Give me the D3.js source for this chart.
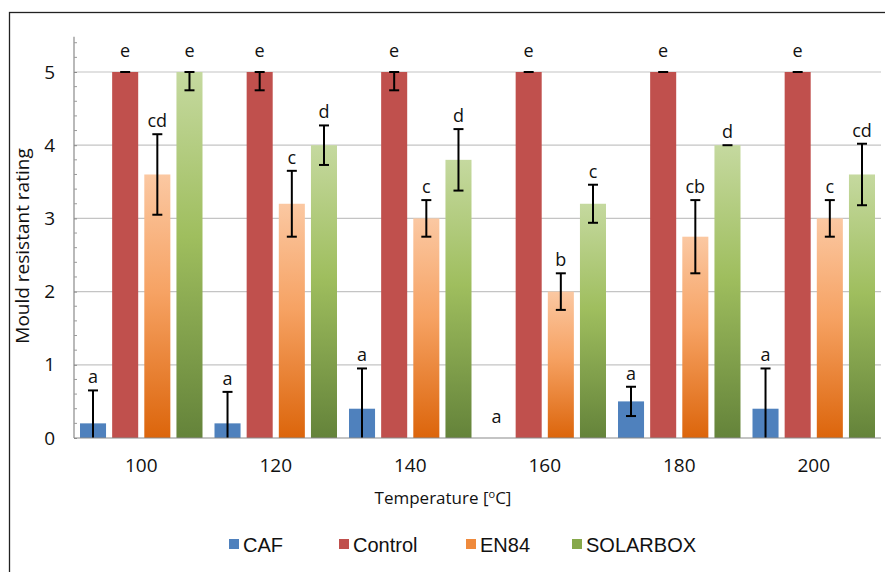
<!DOCTYPE html>
<html>
<head>
<meta charset="utf-8">
<script src="https://cdn.jsdelivr.net/npm/d3@7"></script>
<style>
  html, body { margin: 0; padding: 0; background: #fff; }
  svg { display: block; }
</style>
</head>
<body>
<svg id="chart" width="885" height="572"></svg>
<script>
// Mould resistance rating by treatment temperature
const temperatures = ["100", "120", "140", "160", "180", "200"];
const seriesNames = ["CAF", "Control", "EN84", "SOLARBOX"];

const cafValues      = [0.2, 0.2, 0.4, 0.0, 0.5, 0.4];
const controlValues  = [5, 5, 5, 5, 5, 5];
const en84Values     = [3.6, 3.2, 3.0, 2.0, 2.75, 3.0];
const solarboxValues = [5, 4.0, 3.8, 3.2, 4.0, 3.6];

const cafErrors      = [0.45, 0.43, 0.55, 0, 0.2, 0.55];
const controlErrors  = [0, 0.25, 0.25, 0, 0, 0];
const en84Errors     = [0.55, 0.45, 0.25, 0.25, 0.5, 0.25];
const solarboxErrors = [0.25, 0.27, 0.42, 0.26, 0, 0.42];

const cafLetters      = ["a", "a", "a", "a", "a", "a"];
const controlLetters  = ["e", "e", "e", "e", "e", "e"];
const en84Letters     = ["cd", "c", "c", "b", "cb", "c"];
const solarboxLetters = ["e", "d", "d", "c", "d", "cd"];

const yTicks = [0, 1, 2, 3, 4, 5];

const seriesValues  = [cafValues, controlValues, en84Values, solarboxValues];
const seriesErrors  = [cafErrors, controlErrors, en84Errors, solarboxErrors];
const seriesLetters = [cafLetters, controlLetters, en84Letters, solarboxLetters];

const rows = [];
temperatures.forEach((t, i) => {
  seriesNames.forEach((s, j) => {
    rows.push({
      temp: t,
      series: s,
      value: seriesValues[j][i],
      err: seriesErrors[j][i],
      letter: seriesLetters[j][i]
    });
  });
});

const svg = d3.select("#chart");
const defs = svg.append("defs");

function addGradient(id, stops) {
  const g = defs.append("linearGradient")
    .attr("id", id).attr("x1", 0).attr("y1", 0).attr("x2", 0).attr("y2", 1);
  stops.forEach(([o, c]) => g.append("stop").attr("offset", o).attr("stop-color", c));
}
addGradient("gradEN84", [["0%", "#fbc8a2"], ["45%", "#f6a263"], ["100%", "#dc650b"]]);
addGradient("gradSOLAR", [["0%", "#c5d99f"], ["45%", "#9fbe5e"], ["100%", "#64833a"]]);

const fills = {
  CAF: "#4f81bd",
  Control: "#c0504d",
  EN84: "url(#gradEN84)",
  SOLARBOX: "url(#gradSOLAR)"
};

const labelFont = "'Open Sans', 'DejaVu Sans', sans-serif";

// outer frame
svg.append("rect")
  .attr("x", 9.5).attr("y", 12.5)
  .attr("width", 900).attr("height", 600)
  .attr("fill", "none").attr("stroke", "#222").attr("stroke-width", 1.3);

const x0 = d3.scaleBand().domain(temperatures).range([74, 881]);
const x1 = d3.scaleBand().domain(seriesNames)
  .range([6, x0.bandwidth() - 6]).paddingInner(0.19).paddingOuter(0);
const y = d3.scaleLinear().domain([0, 5]).range([438, 72]);

// gridlines
svg.append("g")
  .selectAll("line")
  .data(yTicks.filter(d => d > 0))
  .join("line")
  .attr("x1", 74).attr("x2", 881)
  .attr("y1", d => y(d)).attr("y2", d => y(d))
  .attr("stroke", "#c4c4c4").attr("stroke-width", 1.2);

// y axis: major ticks with labels, minor ticks every 0.2
const yAxisTop = 5.48;
const axisG = svg.append("g").attr("transform", "translate(74,0)");
const yAxis = d3.axisLeft(y).tickValues(yTicks).tickSize(6).tickPadding(13).tickFormat(d3.format("d"));
axisG.call(yAxis);
axisG.select(".domain").remove();
axisG.selectAll(".tick line").attr("stroke", "#8a8a8a").attr("x2", 3);
axisG.selectAll(".tick text")
  .attr("font-family", labelFont).attr("font-size", 19).attr("fill", "#111");
axisG.append("line")
  .attr("x1", 0).attr("x2", 0).attr("y1", y(0)).attr("y2", y(yAxisTop))
  .attr("stroke", "#8a8a8a").attr("stroke-width", 1.2);
const minorTicks = d3.range(0, 55, 2).map(v => v / 10).filter(v => v % 1 !== 0);
axisG.selectAll(".minor")
  .data(minorTicks)
  .join("line")
  .attr("class", "minor")
  .attr("x1", 0).attr("x2", 3)
  .attr("y1", d => y(d)).attr("y2", d => y(d))
  .attr("stroke", "#9a9a9a").attr("stroke-width", 1);

// bars
const groups = svg.append("g")
  .selectAll("g")
  .data(temperatures)
  .join("g")
  .attr("transform", d => `translate(${x0(d)},0)`);

groups.selectAll("rect")
  .data(t => rows.filter(r => r.temp === t && r.value > 0))
  .join("rect")
  .attr("x", d => x1(d.series))
  .attr("width", x1.bandwidth())
  .attr("y", d => y(d.value))
  .attr("height", d => y(0) - y(d.value))
  .attr("fill", d => fills[d.series]);

// x axis baseline
svg.append("line")
  .attr("x1", 74).attr("x2", 881).attr("y1", y(0)).attr("y2", y(0))
  .attr("stroke", "#8a8a8a").attr("stroke-width", 1.2);

// error bars, limited to the 0–5 rating scale
const cap = 5;
const errG = groups.selectAll("g.err")
  .data(t => rows.filter(r => r.temp === t && (r.err > 0 || r.value > 0)))
  .join("g")
  .attr("class", "err")
  .attr("transform", d => `translate(${x1(d.series) + x1.bandwidth() / 2},0)`);

errG.append("line")
  .attr("y1", d => y(Math.max(0, d.value - d.err)))
  .attr("y2", d => y(Math.min(5, d.value + d.err)))
  .attr("stroke", "#000").attr("stroke-width", 2);
errG.filter(d => d.value + d.err > 0).append("line")
  .attr("x1", -cap).attr("x2", cap)
  .attr("y1", d => y(Math.min(5, d.value + d.err)))
  .attr("y2", d => y(Math.min(5, d.value + d.err)))
  .attr("stroke", "#000").attr("stroke-width", 2);
errG.filter(d => d.value - d.err > 0 && d.err > 0).append("line")
  .attr("x1", -cap).attr("x2", cap)
  .attr("y1", d => y(d.value - d.err))
  .attr("y2", d => y(d.value - d.err))
  .attr("stroke", "#000").attr("stroke-width", 2);

// significance letters
groups.selectAll("text.letter")
  .data(t => rows.filter(r => r.temp === t))
  .join("text")
  .attr("class", "letter")
  .attr("x", d => x1(d.series) + x1.bandwidth() / 2)
  .attr("y", d => {
    const top = Math.min(5, d.value + d.err);
    return y(top) - (top >= 5 || top === 0 ? 15 : 7);
  })
  .attr("text-anchor", "middle")
  .attr("font-family", labelFont)
  .attr("font-size", 18)
  .attr("fill", "#111")
  .text(d => d.letter);

// category labels
svg.append("g")
  .selectAll("text")
  .data(temperatures)
  .join("text")
  .attr("x", d => x0(d) + x0.bandwidth() / 2)
  .attr("y", 472)
  .attr("text-anchor", "middle")
  .attr("font-family", labelFont)
  .attr("font-size", 19)
  .attr("fill", "#111")
  .text(d => d);

// axis titles
const xTitle = svg.append("text")
  .attr("x", 443).attr("y", 504)
  .attr("text-anchor", "middle")
  .attr("font-family", labelFont)
  .attr("font-size", 17)
  .attr("fill", "#111");
xTitle.append("tspan").text("Temperature [");
xTitle.append("tspan").attr("font-size", 11).attr("dy", -6).text("o");
xTitle.append("tspan").attr("dy", 6).text("C]");

svg.append("text")
  .attr("transform", "translate(29,246) rotate(-90)")
  .attr("text-anchor", "middle")
  .attr("font-family", labelFont)
  .attr("font-size", 19)
  .attr("fill", "#111")
  .text("Mould resistant rating");

// legend
const legendX = [229, 339, 466, 572];
const legendFill = {
  CAF: "#4f81bd",
  Control: "#c0504d",
  EN84: "#ef8a3c",
  SOLARBOX: "#86a84a"
};
const legend = svg.append("g")
  .selectAll("g")
  .data(seriesNames)
  .join("g")
  .attr("transform", (d, i) => `translate(${legendX[i]},0)`);
legend.append("rect")
  .attr("x", 0).attr("y", 539).attr("width", 10).attr("height", 10)
  .attr("fill", d => legendFill[d]);
legend.append("text")
  .attr("x", 14).attr("y", 551.5)
  .attr("font-family", "'Liberation Sans', Arial, sans-serif")
  .attr("font-size", 20)
  .attr("fill", "#111")
  .text(d => d);
</script>
</body>
</html>
